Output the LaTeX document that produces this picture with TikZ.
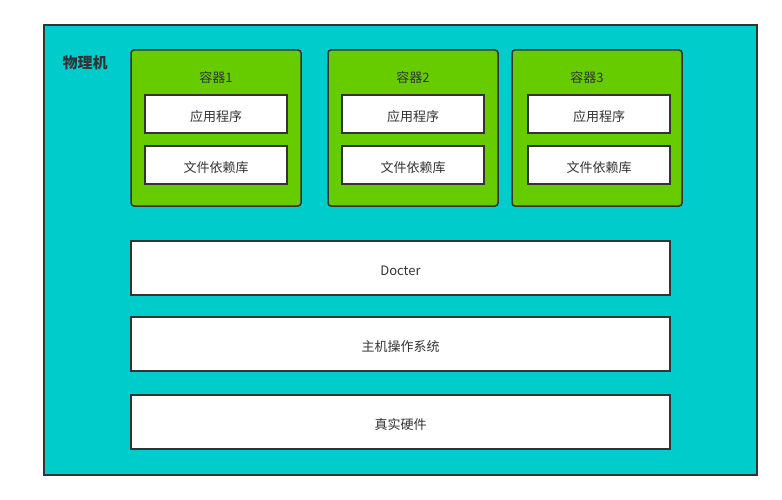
\documentclass[tikz,border=0pt]{standalone}
\usepackage{fontspec}
\setmainfont{Noto Sans CJK SC}
\definecolor{outerfill}{RGB}{0,204,204}
\definecolor{greenfill}{RGB}{102,204,0}
\definecolor{edge}{RGB}{51,51,51}
\begin{document}
\begin{tikzpicture}[x=1pt,y=-1pt,
  outerbox/.style={draw=edge,line width=2pt,fill=outerfill},
  contbox/.style={draw=edge,line width=1.5pt,fill=greenfill,rounded corners=3pt},
  whitebox/.style={draw=edge,line width=2pt,fill=white},
  lbl/.style={font=\fontsize{13}{15}\selectfont,text=edge,inner sep=0pt,yshift=-1.5pt},
]
\useasboundingbox (0,0) rectangle (782,500);
\path[outerbox] (44,25) rectangle (757,475);
\node[lbl,font=\fontsize{15}{17}\selectfont\bfseries] (title) at (85,61) {物理机};
\foreach \x/\n/\tx/\ix in {131/1/216/14,328/2/413/14,512/3/587/16}{
  \path[contbox] (\x,50) rectangle ++(170,156);
  \node[lbl] (c\n) at (\tx,76) {容器\n};
  \path[whitebox] (\x+\ix,95) rectangle ++(142,38);
  \node[lbl] (app\n) at (\x+\ix+71,115) {应用程序};
  \path[whitebox] (\x+\ix,146) rectangle ++(142,38);
  \node[lbl] (lib\n) at (\x+\ix+71,166) {文件依赖库};
}
\path[whitebox] (131,241) rectangle (670,295);
\node[lbl] (docker) at (400.5,269) {Docter};
\path[whitebox] (131,317) rectangle (670,371);
\node[lbl] (os) at (400.5,345) {主机操作系统};
\path[whitebox] (131,395) rectangle (670,449);
\node[lbl] (hw) at (400.5,423) {真实硬件};
\end{tikzpicture}
\end{document}
